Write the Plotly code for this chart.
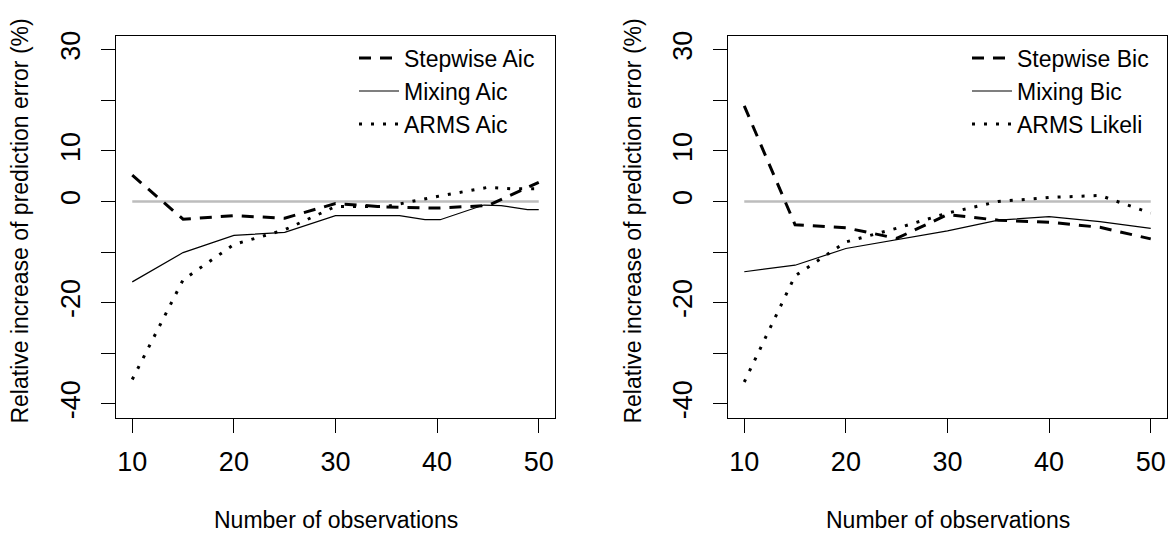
import plotly.graph_objects as go

# ---------------- data ----------------
# Left panel (AIC criteria)
stepwise_aic_x = [10, 15, 20, 25, 30, 35, 40, 45, 50]
stepwise_aic_y = [5.2, -3.5, -2.8, -3.3, -0.4, -1.1, -1.3, -0.8, 3.8]
mixing_aic_x = [10, 15, 20, 25, 30, 36.3, 38.8, 40.3, 44.6, 46.3, 48.9, 50]
mixing_aic_y = [-15.9, -10.1, -6.7, -6.1, -2.8, -2.8, -3.6, -3.6, -0.7, -0.8, -1.6, -1.6]
arms_aic_x = [10, 15, 20, 25, 30, 35, 40, 45, 47.5, 50]
arms_aic_y = [-35.2, -15.5, -8.5, -5.6, -1.0, -1.0, 1.0, 2.8, 2.5, 2.5]

# Right panel (BIC / likelihood criteria)
stepwise_bic_x = [10, 15, 20, 25, 30, 35, 40, 45, 50]
stepwise_bic_y = [18.9, -4.6, -5.2, -7.3, -2.6, -3.7, -4.1, -5.1, -7.4]
mixing_bic_x = [10, 15, 20, 25, 30, 35, 40, 45, 50]
mixing_bic_y = [-13.9, -12.6, -9.3, -7.5, -5.8, -3.7, -3.0, -4.0, -5.3]
arms_likeli_x = [10, 15, 20, 25, 30, 35, 40, 45, 50]
arms_likeli_y = [-35.7, -14.7, -8.0, -5.3, -2.3, 0.0, 0.8, 1.2, -2.3]

# zero reference line
ref_x = [10, 50]
ref_y = [0, 0]

# axis ticks
x_tickvals = [10, 20, 30, 40, 50]
x_ticktext = ["10", "20", "30", "40", "50"]
y_tickvals = [30, 20, 10, 0, -10, -20, -30, -40]
y_ticktext = ["30", "", "10", "0", "", "-20", "", "-40"]

x_title = "Number of observations"
y_title = "Relative increase of prediction error (%)"

# ---------------- figure ----------------
W, H = 1170, 533
FONT = "Liberation Sans, Arial, sans-serif"

fig = go.Figure()

DASH = "12px,9px"
DOT = "3px,9px"


def add_panel(xa, ya, legend, series):
    fig.add_trace(go.Scatter(x=ref_x, y=ref_y, mode="lines", xaxis=xa, yaxis=ya,
                             line=dict(color="#bdbdbd", width=2.5), showlegend=False,
                             hoverinfo="skip"))
    for name, xs, ys, dash, width in series:
        fig.add_trace(go.Scatter(x=xs, y=ys, mode="lines", name=name, xaxis=xa, yaxis=ya,
                                 legend=legend,
                                 line=dict(color="black", width=width, dash=dash)))


add_panel("x", "y", "legend", [
    ("Stepwise Aic", stepwise_aic_x, stepwise_aic_y, DASH, 3),
    ("Mixing Aic", mixing_aic_x, mixing_aic_y, "solid", 1.2),
    ("ARMS Aic", arms_aic_x, arms_aic_y, DOT, 3),
])
add_panel("x2", "y2", "legend2", [
    ("Stepwise Bic", stepwise_bic_x, stepwise_bic_y, DASH, 3),
    ("Mixing Bic", mixing_bic_x, mixing_bic_y, "solid", 1.2),
    ("ARMS Likeli", arms_likeli_x, arms_likeli_y, DOT, 3),
])

ydom = [1 - 417.6 / H, 1 - 31 / H]
xdom1 = [116 / W, 555 / W]
xdom2 = [728 / W, 1167 / W]

xaxis_common = dict(range=[8.4, 51.6], tickvals=x_tickvals, ticktext=x_ticktext,
                    showgrid=False, zeroline=False, showline=True, mirror=True,
                    linecolor="black", linewidth=1.2, ticks="outside", ticklen=14,
                    tickwidth=1.2, tickcolor="black", ticklabelstandoff=6,
                    tickfont=dict(family=FONT, size=27, color="black"))
yaxis_common = dict(range=[-42.8, 32.8], tickvals=y_tickvals, ticktext=y_ticktext,
                    showgrid=False, zeroline=False, showline=True, mirror=True,
                    linecolor="black", linewidth=1.2, ticks="outside", ticklen=14,
                    tickwidth=1.2, tickcolor="black", tickangle=-90, ticklabelstandoff=10,
                    tickfont=dict(family=FONT, size=27, color="black"))

legend_common = dict(font=dict(family=FONT, size=23, color="black"), bgcolor="rgba(0,0,0,0)",
                     borderwidth=0, xanchor="left", yanchor="top", itemwidth=40,
                     tracegroupgap=0)

ann_font = dict(family=FONT, size=23, color="black")

fig.update_layout(
    width=W, height=H,
    margin=dict(l=0, r=0, t=0, b=0),
    paper_bgcolor="white", plot_bgcolor="white",
    font=dict(family=FONT, color="black"),
    xaxis=dict(domain=xdom1, anchor="y", **xaxis_common),
    yaxis=dict(domain=ydom, anchor="x", **yaxis_common),
    xaxis2=dict(domain=xdom2, anchor="y2", **xaxis_common),
    yaxis2=dict(domain=ydom, anchor="x2", **yaxis_common),
    legend=dict(x=354 / W, y=1 - 32 / H, **legend_common),
    legend2=dict(x=967 / W, y=1 - 32 / H, **legend_common),
    showlegend=True,
    annotations=[
        dict(text=x_title, xref="paper", yref="paper", x=335.5 / W, y=1 - 521 / H,
             xanchor="center", yanchor="middle", showarrow=False, font=ann_font),
        dict(text=x_title, xref="paper", yref="paper", x=947.5 / W, y=1 - 521 / H,
             xanchor="center", yanchor="middle", showarrow=False, font=ann_font),
        dict(text=y_title, xref="paper", yref="paper", x=20 / W, y=1 - 219 / H,
             xanchor="center", yanchor="middle",
             textangle=-90, showarrow=False, font=ann_font),
        dict(text=y_title, xref="paper", yref="paper", x=633 / W, y=1 - 219 / H,
             xanchor="center", yanchor="middle",
             textangle=-90, showarrow=False, font=ann_font),
    ],
)

fig.write_html("out.html", config={"displayModeBar": False},
               post_script="document.body.style.margin='0';document.body.style.overflow='hidden';")
